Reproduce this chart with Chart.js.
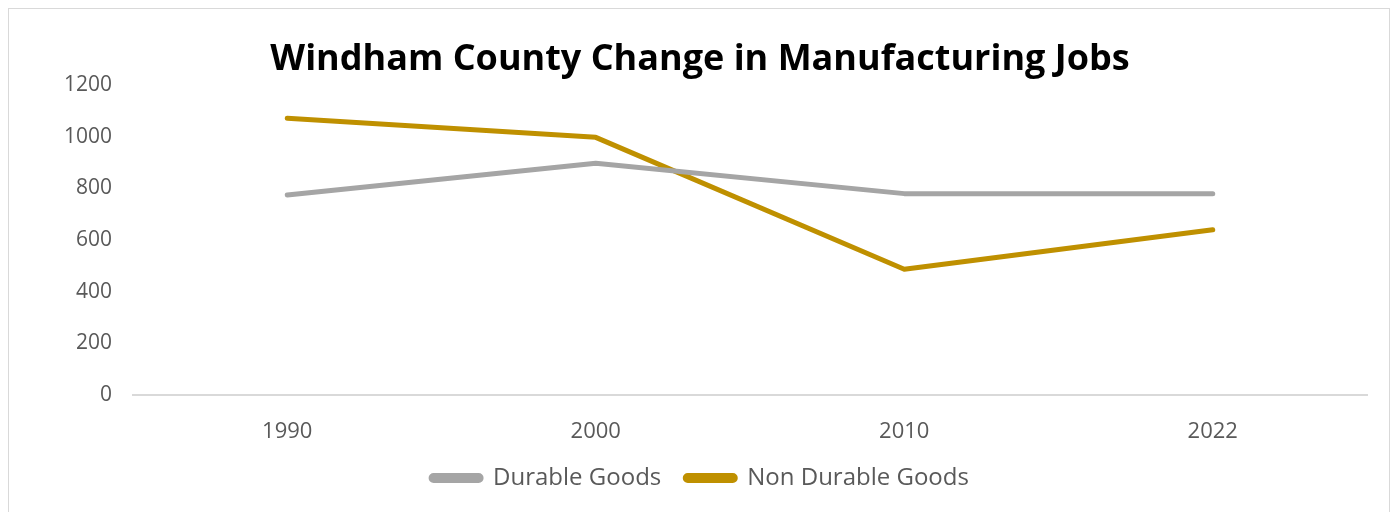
<!DOCTYPE html>
<html>
<head>
<meta charset="utf-8">
<script src="https://cdn.jsdelivr.net/npm/chart.js@4"></script>
<style>
  html, body { margin: 0; padding: 0; background: #fff; }
  #wrap { position: relative; width: 1395px; height: 512px; overflow: hidden; }
  #frame { position: absolute; left: 8px; top: 8px; width: 1380px; height: 520px; border: 1px solid #d9d9d9; }
  #myChart { position: absolute; left: 0; top: 0; }
</style>
</head>
<body>
<div id="wrap">
  <div id="frame"></div>
  <canvas id="myChart" width="1395" height="512"></canvas>
</div>
<script>
const years = ["1990", "2000", "2010", "2022"];
const durableGoods = [775, 898, 780, 780];
const nonDurableGoods = [1072, 998, 487, 640];
const yTicks = [0, 200, 400, 600, 800, 1000, 1200];

const font = "'Open Sans', 'Noto Sans', sans-serif";

const ctx = document.getElementById("myChart");
new Chart(ctx, {
  type: "line",
  data: {
    labels: years,
    datasets: [
      {
        label: "Durable Goods",
        data: durableGoods,
        borderColor: "#a5a5a5",
        backgroundColor: "#a5a5a5",
        borderWidth: 5,
        borderCapStyle: "round",
        borderJoinStyle: "round",
        pointRadius: 0,
        tension: 0,
      },
      {
        label: "Non Durable Goods",
        data: nonDurableGoods,
        borderColor: "#bf9000",
        backgroundColor: "#bf9000",
        borderWidth: 5,
        borderCapStyle: "round",
        borderJoinStyle: "round",
        pointRadius: 0,
        tension: 0,
      },
    ],
  },
  options: {
    responsive: false,
    animation: false,
    layout: {
      // left padding keeps the title centred on the frame
      padding: { top: 38, left: 33, right: 28, bottom: 12 },
    },
    plugins: {
      title: {
        display: true,
        text: "Windham County Change in Manufacturing Jobs",
        color: "#000",
        font: { family: font, size: 36, weight: "bold" },
        padding: { top: 0, bottom: 4 },
      },
      legend: {
        position: "bottom",
        labels: {
          color: "#595959",
          font: { family: font, size: 24 },
          boxWidth: 50,
          boxHeight: 5,
          padding: 24,
          useBorderRadius: true,
          borderRadius: 2.5,
        },
      },
      tooltip: { enabled: false },
    },
    scales: {
      x: {
        offset: true,
        grid: { display: false, drawTicks: false },
        border: { display: true, color: "#d9d9d9", width: 2 },
        afterFit: (scale) => {
          scale.height = 47;
        },
        ticks: {
          color: "#595959",
          font: { family: font, size: 22 },
          padding: 24,
        },
      },
      y: {
        min: 0,
        max: 1200,
        afterBuildTicks: (scale) => {
          scale.ticks = yTicks.map((v) => ({ value: v }));
        },
        afterFit: (scale) => {
          scale.width = 100;
        },
        grid: { display: false },
        border: { display: false },
        ticks: {
          color: "#595959",
          font: { family: font, size: 21 },
          padding: 13,
          callback: (value) => String(value),
        },
      },
    },
  },
});
</script>
</body>
</html>
